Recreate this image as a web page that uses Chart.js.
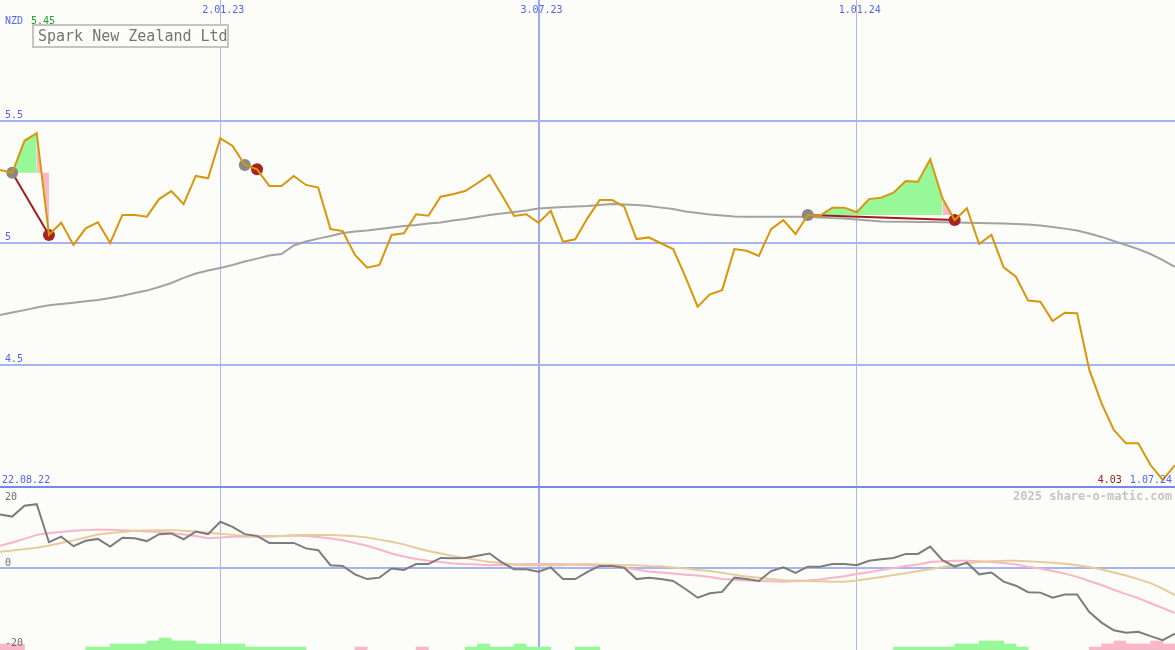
<!DOCTYPE html>
<html>
<head>
<meta charset="utf-8">
<script src="https://cdn.jsdelivr.net/npm/chart.js@4.4.1/dist/chart.umd.min.js"></script>
<style>
html, body { margin: 0; padding: 0; background: #fcfdf9; }
#wrap { position: relative; width: 1175px; height: 650px; overflow: hidden; background: #fcfdf9; }
canvas { position: absolute; left: 0; }
#top { top: 0; }
#bottom { top: 486px; }
</style>
</head>
<body>
<div id="wrap">
  <canvas id="top" width="1175" height="487"></canvas>
  <canvas id="bottom" width="1175" height="164"></canvas>
</div>
<script>
// share data, weekly closes from 29.08.22
var companyName = "Spark New Zealand Ltd";
var currency = "NZD";
var firstWeek = "29.08.22";
var rangeLabels = ["22.08.22", "1.07.24"];
var dateTicks = ["2.01.23", "3.07.23", "1.01.24"];
var priceTicks = [4.5, 5, 5.5];
var oscTicks = [20, 0, -20];

var prices = [5.299, 5.288, 5.419, 5.45, 5.033, 5.083, 4.992, 5.06, 5.085, 5.0,
  5.115, 5.115, 5.108, 5.18, 5.213, 5.159, 5.275, 5.265, 5.429, 5.398,
  5.32, 5.302, 5.234, 5.234, 5.275, 5.238, 5.227, 5.057, 5.049, 4.951,
  4.899, 4.91, 5.033, 5.04, 5.118, 5.112, 5.19, 5.2, 5.213, 5.245,
  5.279, 5.197, 5.111, 5.118, 5.083, 5.132, 5.005, 5.015, 5.102, 5.176,
  5.176, 5.149, 5.016, 5.023, 4.999, 4.975, 4.861, 4.739, 4.79, 4.807,
  4.975, 4.968, 4.947, 5.057, 5.094, 5.037, 5.115, 5.112, 5.145, 5.145,
  5.126, 5.18, 5.186, 5.206, 5.254, 5.251, 5.343, 5.183, 5.094, 5.142,
  4.996, 5.033, 4.9, 4.862, 4.764, 4.759, 4.68, 4.714, 4.712, 4.48,
  4.343, 4.234, 4.179, 4.179, 4.09, 4.029, 4.09];

var average = [4.705, 4.715, 4.725, 4.736, 4.745, 4.75, 4.755, 4.761, 4.766, 4.775,
  4.784, 4.795, 4.805, 4.82, 4.836, 4.857, 4.875, 4.887, 4.898, 4.91,
  4.924, 4.936, 4.949, 4.955, 4.99, 5.006, 5.018, 5.029, 5.041, 5.047,
  5.051, 5.057, 5.064, 5.07, 5.074, 5.08, 5.084, 5.092, 5.098, 5.107,
  5.115, 5.121, 5.127, 5.133, 5.141, 5.145, 5.148, 5.15, 5.152, 5.156,
  5.16, 5.158, 5.156, 5.152, 5.145, 5.139, 5.129, 5.123, 5.117, 5.113,
  5.109, 5.108, 5.108, 5.108, 5.108, 5.108, 5.108, 5.105, 5.102, 5.1,
  5.096, 5.092, 5.088, 5.087, 5.087, 5.086, 5.086, 5.085, 5.084, 5.083,
  5.082, 5.081, 5.08, 5.078, 5.076, 5.072, 5.066, 5.059, 5.051, 5.039,
  5.025, 5.008, 4.992, 4.975, 4.955, 4.93, 4.902];

// buy / sell signals (week index)
var tradeEntries = [1, 20, 66];
var tradeExits = [4, 21, 78];

var oscillator = [14.6, 14.0, 17.0, 17.4, 7.0, 8.5, 5.9, 7.4, 7.9, 5.8,
  8.2, 8.1, 7.3, 9.2, 9.4, 7.8, 9.9, 9.2, 12.6, 11.2,
  9.2, 8.7, 6.8, 6.8, 6.8, 5.3, 4.8, 0.7, 0.5, -1.8,
  -3.1, -2.7, -0.2, -0.6, 1.0, 1.0, 2.7, 2.6, 2.7, 3.3,
  3.9, 1.5, -0.4, -0.4, -1.1, 0.1, -3.1, -3.1, -1.1, 0.5,
  0.5, 0, -3.1, -2.7, -3.1, -3.6, -5.8, -8.2, -7.0, -6.6,
  -2.7, -3.1, -3.6, -0.9, 0.1, -1.4, 0.3, 0.3, 1.0, 1.0,
  0.7, 1.9, 2.3, 2.7, 3.8, 3.8, 5.8, 2.1, 0.3, 1.4,
  -1.8, -1.3, -3.8, -4.9, -6.7, -6.8, -8.2, -7.3, -7.3, -12.1,
  -15.0, -17.1, -17.8, -17.5, -18.7, -19.8, -18.0];

var signalFast = [6.0, 6.9, 7.9, 9.0, 9.5, 9.8, 10.1, 10.3, 10.5, 10.4,
  10.3, 10.1, 9.9, 9.8, 9.5, 9.1, 8.7, 8.1, 8.3, 8.5,
  8.5, 8.6, 8.7, 8.7, 8.8, 8.7, 8.4, 8.0, 7.5, 6.8,
  6.0, 5.0, 3.9, 3.1, 2.4, 1.9, 1.6, 1.2, 1.0, 0.9,
  0.7, 0.8, 0.9, 1.0, 1.0, 1.0, 1.0, 0.9, 0.7, 0.5,
  0.2, 0, -0.5, -1.0, -1.3, -1.6, -1.9, -2.1, -2.5, -3.1,
  -3.3, -3.5, -3.6, -3.7, -3.8, -3.6, -3.5, -3.2, -2.7, -2.3,
  -1.7, -1.2, -0.6, -0.1, 0.5, 0.9, 1.6, 1.8, 1.9, 1.9,
  1.8, 1.6, 1.3, 0.9, 0.3, -0.2, -0.9, -1.6, -2.5, -3.6,
  -4.7, -6.0, -7.2, -8.3, -9.7, -11.0, -12.4];

var signalSlow = [4.4, 4.7, 5.1, 5.5, 6.1, 6.8, 7.5, 8.3, 9.1, 9.5,
  9.8, 10.1, 10.2, 10.3, 10.3, 10.1, 9.9, 9.6, 9.3, 9.0,
  8.7, 8.5, 8.5, 8.7, 8.9, 9.0, 9.0, 9.0, 8.8, 8.6,
  8.3, 7.7, 7.1, 6.4, 5.4, 4.6, 3.9, 3.2, 2.7, 2.1,
  1.6, 1.3, 0.9, 0.7, 0.7, 0.7, 0.7, 0.9, 1.0, 0.9,
  0.8, 0.7, 0.7, 0.5, 0.4, 0.1, -0.2, -0.6, -0.9, -1.4,
  -1.9, -2.4, -2.7, -3.1, -3.4, -3.5, -3.6, -3.7, -3.8, -3.8,
  -3.5, -3.0, -2.5, -2.0, -1.5, -0.9, -0.4, 0.2, 0.7, 1.2,
  1.6, 1.8, 1.9, 1.9, 1.8, 1.6, 1.4, 1.1, 0.7, 0.2,
  -0.5, -1.3, -2.1, -3.1, -4.2, -5.7, -7.5];

// weekly bars between points, + green / - pink
var histogram = [-2, -2, 0, 0, 0, 0, 0, 1, 1, 2,
  2, 2, 3, 4, 3, 3, 2, 2, 2, 2,
  1, 1, 1, 1, 1, 0, 0, 0, 0, -1,
  0, 0, 0, 0, -1, 0, 0, 0, 1, 2,
  1, 1, 2, 1, 1, 0, 0, 1, 1, 0,
  0, 0, 0, 0, 0, 0, 0, 0, 0, 0,
  0, 0, 0, 0, 0, 0, 0, 0, 0, 0,
  0, 0, 0, 1, 1, 1, 1, 1, 2, 2,
  3, 3, 2, 1, 0, 0, 0, 0, 0, -1,
  -2, -3, -2, -2, -3, -2];

var FONT = '"DejaVu Sans Mono", "Liberation Mono", monospace';
var BLUE = "#5264ee";
var GREEN_FILL = "#98f898";
var PINK_FILL = "#f8b8c8";

function parseDate(s) {
  var p = s.split(".");
  return Date.UTC(2000 + Number(p[2]), Number(p[1]) - 1, Number(p[0]));
}
function dayOf(s) {
  return Math.round((parseDate(s) - parseDate(firstWeek)) / 86400000);
}
function xy(values, i) { return { x: 7 * i, y: values[i] }; }
function series(values) { return values.map(function (v, i) { return { x: 7 * i, y: v }; }); }

var xMax = dayOf(rangeLabels[1]);

function isMidYear(c) { return dateTicks[c.index] && dateTicks[c.index].split(".")[1] === "07"; }

function xScale() {
  return {
    type: "linear", min: 0, max: xMax, offset: false,
    afterBuildTicks: function (a) { a.ticks = dateTicks.map(function (d) { return { value: dayOf(d) }; }); },
    ticks: { display: false },
    border: { display: false },
    grid: {
      offset: false,
      drawTicks: false,
      color: function (c) { return isMidYear(c) ? "#9eaaf4" : "#b2b8e2"; },
      lineWidth: function (c) { return isMidYear(c) ? 2 : 1; }
    }
  };
}

// ---------- price panel ----------
var topSets = [];
topSets.push({ label: "price", data: series(prices), borderColor: "#d8960c", borderWidth: 2, pointRadius: 0, order: 0 });
topSets.push({ label: "exit", data: tradeExits.map(function (i) { return xy(prices, i); }), showLine: false,
  pointRadius: 6, pointBackgroundColor: "#a82222", pointBorderWidth: 0, order: 1 });
topSets.push({ label: "entry", data: tradeEntries.map(function (i) { return xy(prices, i); }), showLine: false,
  pointRadius: 6, pointBackgroundColor: "#888888", pointBorderWidth: 0, order: 2 });
tradeEntries.forEach(function (e, t) {
  var x = tradeExits[t];
  var level = prices[e];
  topSets.push({ label: "trade", data: [xy(prices, e), xy(prices, x)], borderColor: "#a01c1c", borderWidth: 2, pointRadius: 0, order: 3 });
  var gain = [];
  for (var i = e; i <= x - 1; i++) gain.push(xy(prices, i));
  topSets.push({ label: "gain", data: gain, borderColor: "rgba(0,0,0,0)", pointRadius: 0, order: 6,
    fill: { target: { value: level }, above: GREEN_FILL, below: GREEN_FILL } });
  topSets.push({ label: "loss", data: [xy(prices, x - 1), xy(prices, x)], borderColor: "rgba(0,0,0,0)", pointRadius: 0, order: 6,
    fill: { target: { value: level }, above: PINK_FILL, below: PINK_FILL } });
});
topSets.push({ label: "average", data: series(average), borderColor: "#a2a2a2", borderWidth: 2, pointRadius: 0, order: 5 });

var topLabels = {
  id: "topLabels",
  afterDraw: function (chart) {
    var c = chart.ctx, xs = chart.scales.x, ys = chart.scales.y;
    c.save();
    c.font = "10px " + FONT;
    c.fillStyle = BLUE;
    c.textAlign = "left";
    priceTicks.forEach(function (v) { c.fillText(String(v), 5, ys.getPixelForValue(v) - 3); });
    c.textAlign = "center";
    dateTicks.forEach(function (d) { c.fillText(d, xs.getPixelForValue(dayOf(d)) + 3, 13); });
    c.textAlign = "left";
    c.fillText(currency, 5, 24);
    c.fillStyle = "#22a022";
    c.fillText(Math.max.apply(null, prices).toFixed(2), 31, 24);
    c.fillStyle = BLUE;
    c.fillText(rangeLabels[0], 2, 483);
    c.textAlign = "right";
    c.fillText(rangeLabels[1], 1172, 483);
    var w = c.measureText(rangeLabels[1]).width;
    c.fillStyle = "#a01c1c";
    c.fillText(Math.min.apply(null, prices).toFixed(2), 1172 - w - 8, 483);
    // name box
    c.strokeStyle = "#c4c4c4";
    c.lineWidth = 2;
    c.fillStyle = "#fcfdf9";
    c.fillRect(33, 25, 195, 22);
    c.strokeRect(33, 25, 195, 22);
    c.fillStyle = "#747474";
    c.textAlign = "left";
    c.font = "15px " + FONT;
    c.fillText(companyName, 38, 41);
    c.restore();
  }
};

new Chart(document.getElementById("top"), {
  type: "line",
  data: { datasets: topSets },
  options: {
    responsive: false, animation: false, events: [],
    layout: { padding: 0, autoPadding: false },
    elements: { line: { tension: 0 } },
    plugins: { legend: { display: false }, tooltip: { enabled: false } },
    scales: {
      x: xScale(),
      y: {
        min: 4, max: 5.996,
        afterBuildTicks: function (a) { a.ticks = priceTicks.map(function (v) { return { value: v }; }); },
        ticks: { display: false },
        border: { display: false },
        grid: { drawTicks: false, color: "#a8b4f2", lineWidth: 2 }
      }
    }
  },
  plugins: [topLabels]
});

// ---------- oscillator panel ----------
var oscMin = -22.5, oscMax = 22.1;

var bottomLabels = {
  id: "bottomLabels",
  afterDraw: function (chart) {
    var c = chart.ctx, ys = chart.scales.y;
    c.save();
    c.font = "10px " + FONT;
    c.fillStyle = "#6c6c6c";
    c.textAlign = "left";
    oscTicks.forEach(function (v) { c.fillText(String(v), 5, ys.getPixelForValue(v) + (v === 0 ? -2 : 5)); });
    c.font = "bold 12px " + FONT;
    c.fillStyle = "#c4c4c4";
    c.textAlign = "right";
    c.fillText("2025 share-o-matic.com", 1172, 14);
    c.restore();
  }
};

new Chart(document.getElementById("bottom"), {
  type: "line",
  data: {
    datasets: [
      { label: "osc", data: series(oscillator), borderColor: "#7c7c7c", borderWidth: 2, pointRadius: 0, order: 0 },
      { label: "slow", data: series(signalSlow), borderColor: "#e6cc9c", borderWidth: 2, pointRadius: 0, order: 1 },
      { label: "fast", data: series(signalFast), borderColor: "#f8b4c8", borderWidth: 2, pointRadius: 0, order: 2 },
      { type: "bar", label: "hist", yAxisID: "yh", order: 3,
        data: histogram.map(function (l, k) { return { x: 7 * k + 3.5, y: l === 0 ? null : Math.abs(l) }; }),
        backgroundColor: function (c) { return histogram[c.dataIndex] > 0 ? GREEN_FILL : PINK_FILL; },
        barPercentage: 1, categoryPercentage: 1, borderWidth: 0 }
    ]
  },
  options: {
    responsive: false, animation: false, events: [],
    layout: { padding: { top: 1 }, autoPadding: false },
    elements: { line: { tension: 0 } },
    plugins: { legend: { display: false }, tooltip: { enabled: false } },
    scales: {
      x: xScale(),
      y: {
        min: oscMin, max: oscMax,
        afterBuildTicks: function (a) { a.ticks = [{ value: 0 }, { value: oscMax }]; },
        ticks: { display: false },
        border: { display: false },
        grid: {
          drawTicks: false,
          color: function (c) { return c.tick && c.tick.value === 0 ? "#a8b4f2" : "#7888e8"; },
          lineWidth: 2
        }
      },
      yh: { display: false, min: 0, max: 54.3 }
    }
  },
  plugins: [bottomLabels]
});
</script>
</body>
</html>
